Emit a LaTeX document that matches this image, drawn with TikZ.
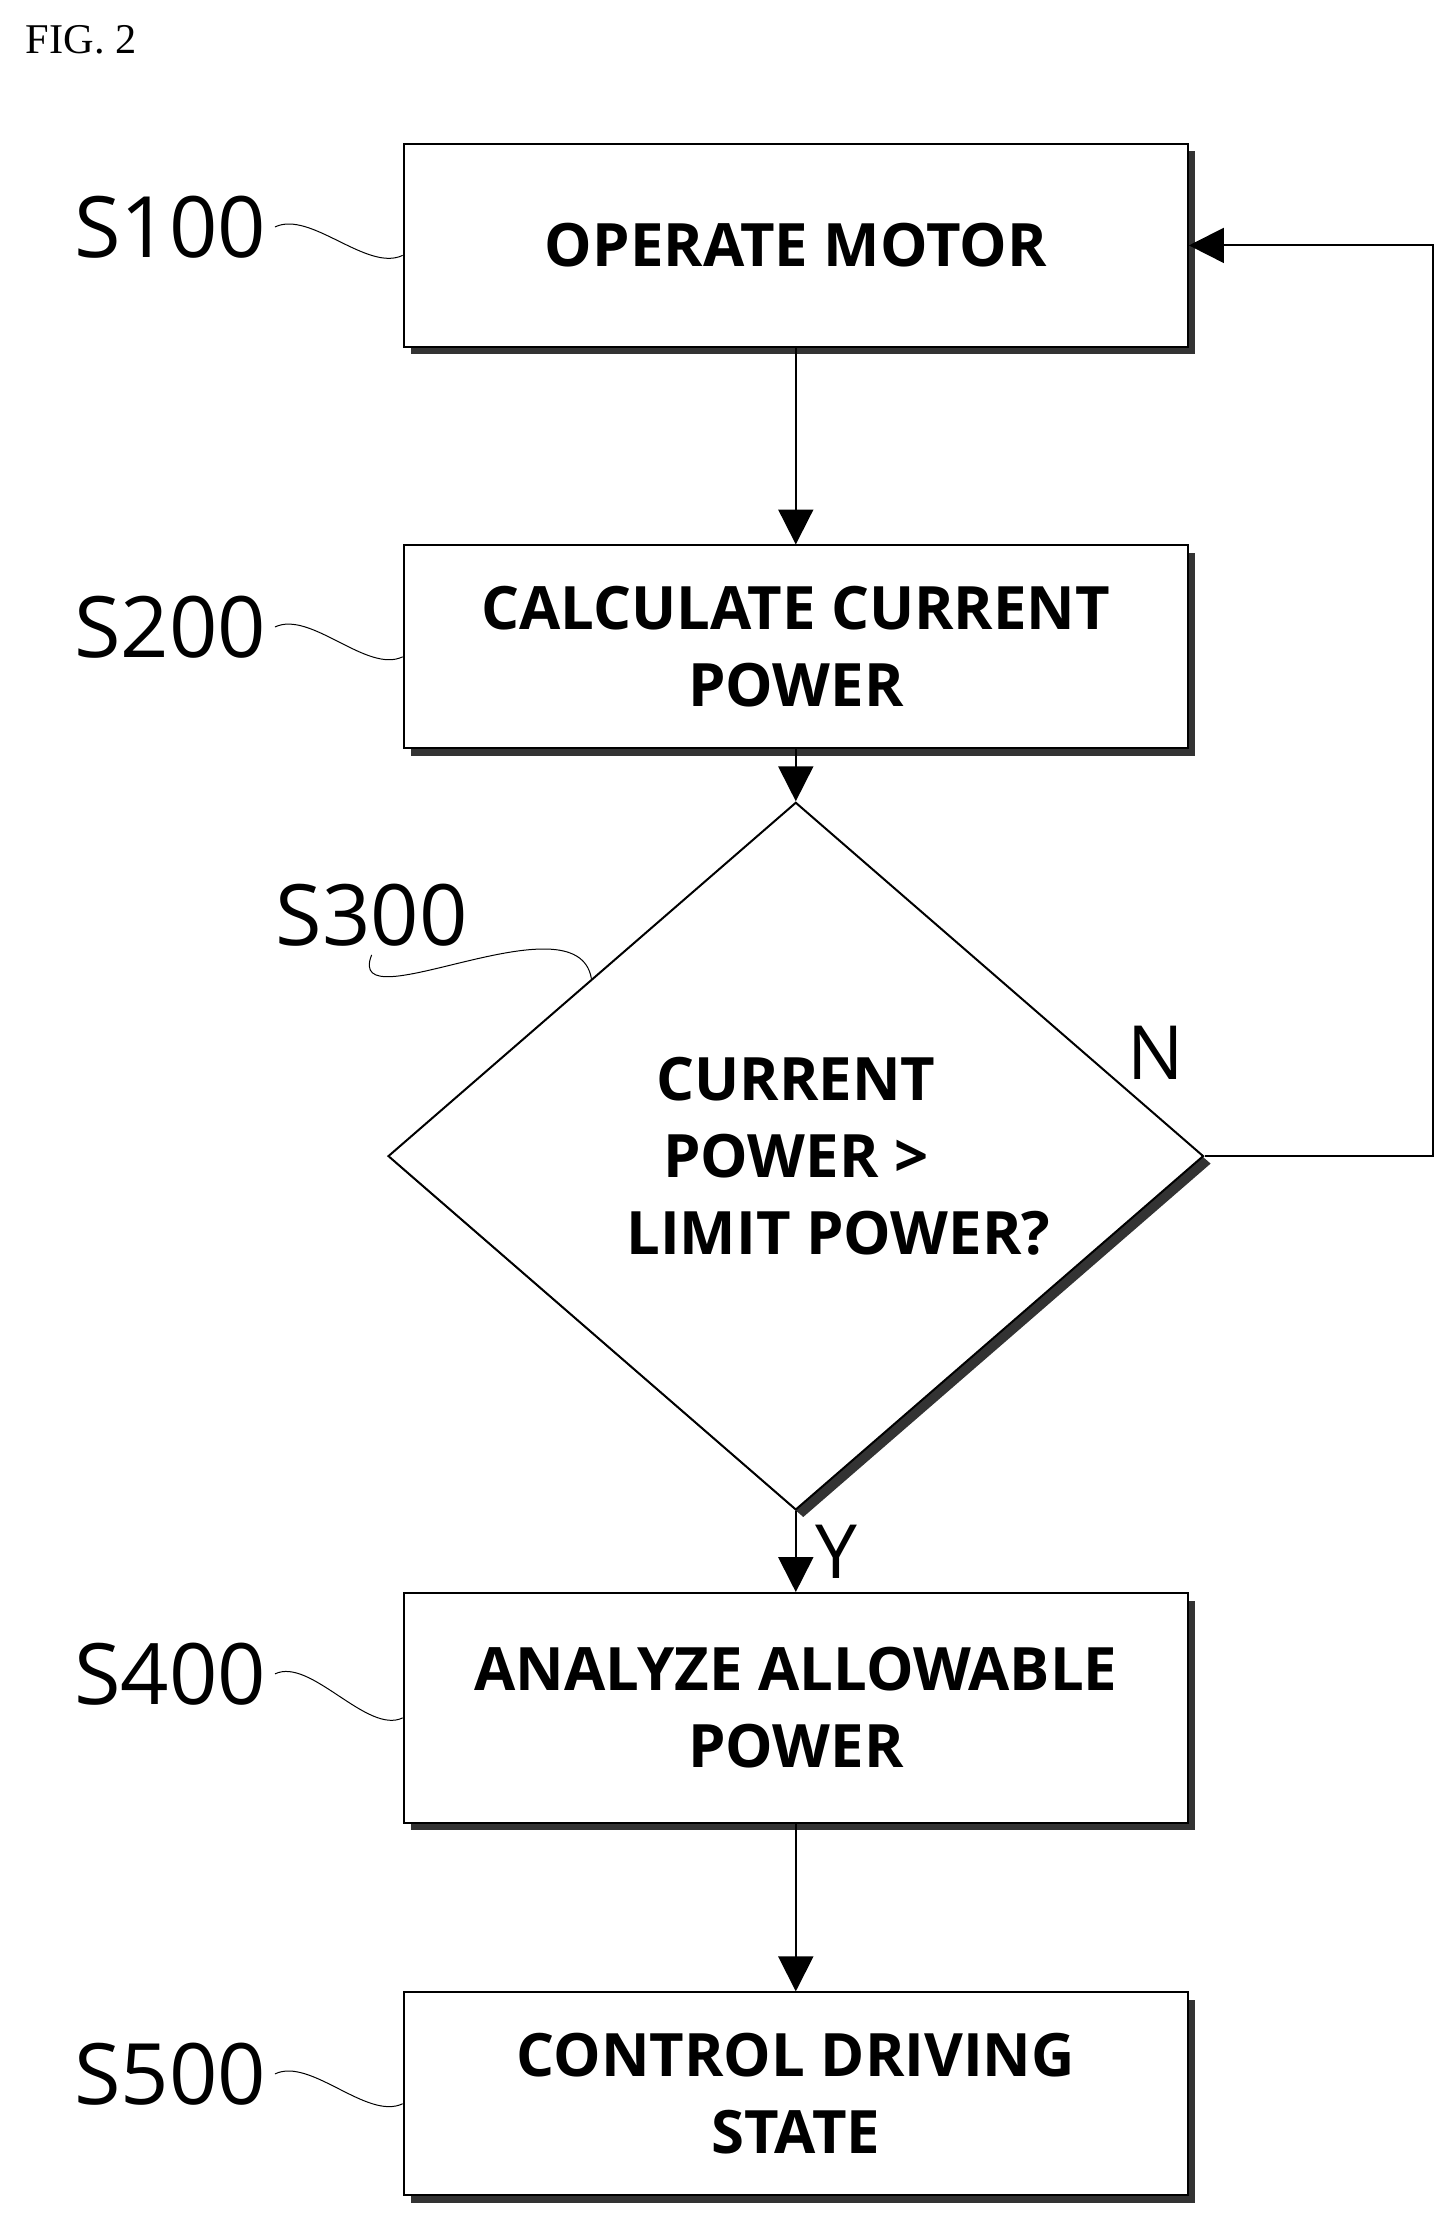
\documentclass[tikz,border=0pt]{standalone}
\usepackage{fontspec}
\setmainfont{Liberation Serif}
\newfontfamily\flowfont{Open Sans}
\usetikzlibrary{shapes.geometric,shadows,arrows.meta}
\begin{document}
\begin{tikzpicture}[x=0.02cm,y=-0.02cm,
    stepbox/.style={draw,thick,fill=white,minimum width=11.06cm,minimum height=2.86cm,
      align=center,font=\flowfont\bfseries\fontsize{24}{31}\selectfont,
      drop shadow={shadow xshift=3pt,shadow yshift=-3pt,opacity=1,fill=black!80}},
    tag/.style={font=\flowfont\fontsize{34}{36}\selectfont},
    lead/.style={thin},
    flow/.style={thick,-{Triangle[length=14pt,width=14pt]}}]
    \useasboundingbox (0,0) rectangle (1024,1565);
    \node[anchor=north west,font=\fontsize{17}{20}\selectfont] (fig) at (12,12) {FIG. 2};

    % Schritte
    \node[stepbox] (s100) at (561,173) {OPERATE MOTOR};
    \node[stepbox] (s200) at (561,456) {CALCULATE CURRENT\\POWER};
    \node[draw,thick,fill=white,diamond,minimum width=11.5cm,minimum height=5.9cm,inner sep=0pt,
      align=center,font=\flowfont\bfseries\fontsize{24}{31}\selectfont,
      drop shadow={shadow xshift=3pt,shadow yshift=-3pt,opacity=1,fill=black!80}]
      (s300) at (561,815) {CURRENT\\POWER >\\\hspace*{1.2cm}LIMIT POWER?};
    \node[stepbox,minimum height=3.24cm] (s400) at (561,1204) {ANALYZE ALLOWABLE\\POWER};
    \node[stepbox] (s500) at (561,1476) {CONTROL DRIVING\\STATE};

    % Kennzeichnungen
    \node[tag] (t100) at (120,160) {S100};
    \node[tag] (t200) at (120,442) {S200};
    \node[tag] (t300) at (262,645) {S300};
    \node[tag] (t400) at (120,1180) {S400};
    \node[tag] (t500) at (120,1462) {S500};
    \foreach \t/\s in {t100/s100,t200/s200,t400/s400,t500/s500}
      \draw[lead] (\t.east) .. controls +(25,-12) and +(-25,12) .. ([yshift=-4pt]\s.west);
    \draw[lead] (t300.south) .. controls +(-20,50) and +(-10,-60) .. (s300.north west);

    % Pfeile
    \draw[flow] (s100) -- (s200);
    \draw[flow] (s200) -- (s300);
    \draw[flow] (s300) -- node[right=4pt,font=\flowfont\fontsize{30}{32}\selectfont] {Y} (s400);
    \draw[flow] (s400) -- (s500);
    \coordinate (loop) at (1010,815);
    \draw[flow] (s300.east) -- (loop) |- (s100.east);
    \node[font=\flowfont\fontsize{30}{32}\selectfont] (no) at (815,742) {N};
\end{tikzpicture}
\end{document}
